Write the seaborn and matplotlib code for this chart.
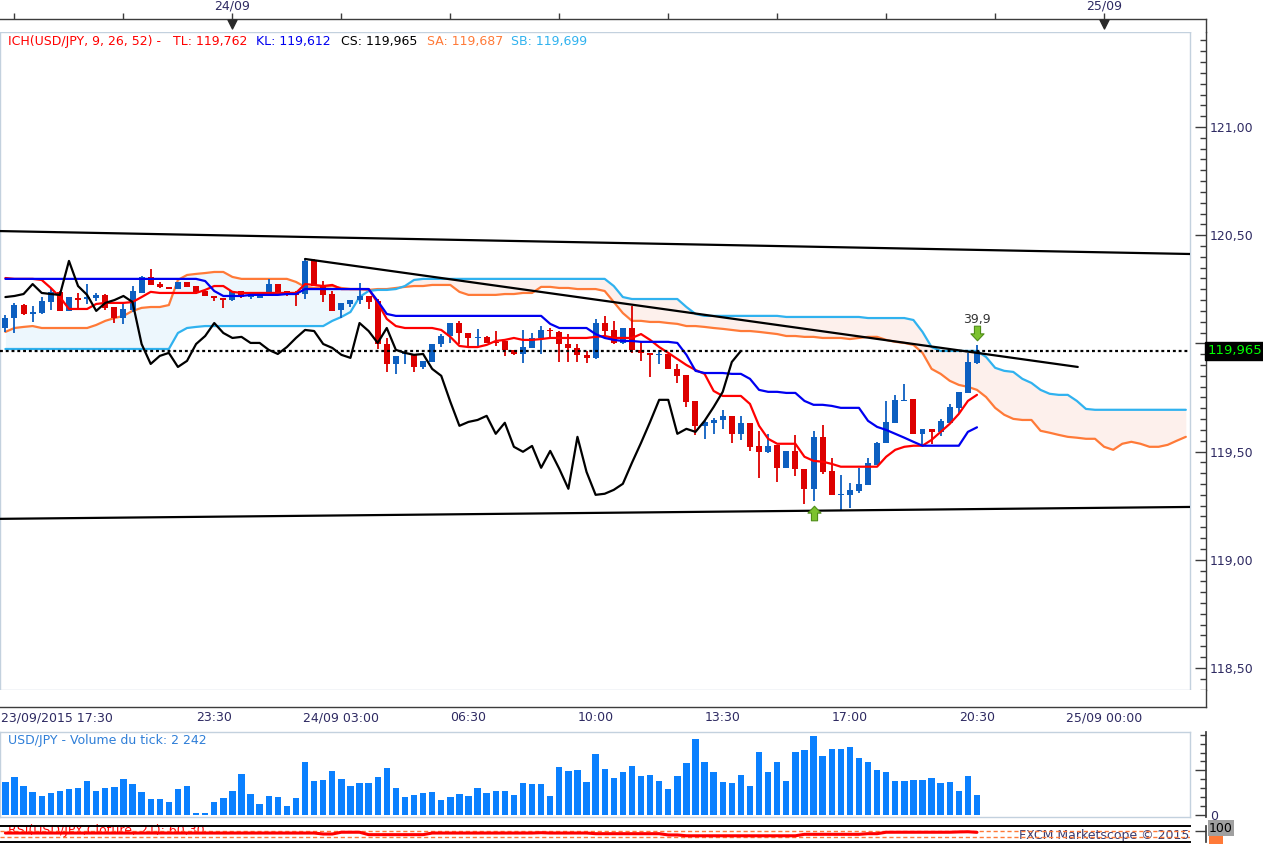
import numpy as np
import pandas as pd
import matplotlib.pyplot as plt
import seaborn as sns
from matplotlib.path import Path
from matplotlib.patches import Rectangle
from matplotlib.ticker import FixedLocator, MultipleLocator, FuncFormatter

# USD/JPY, 15 min candles, 23/09/2015 17:45 -> 24/09/2015 20:30 (index 0..107)
opens = [120.071, 120.117, 120.177, 120.136, 120.140, 120.191, 120.237, 120.150, 120.210, 120.205,
         120.210, 120.224, 120.168, 120.117, 120.154, 120.233, 120.307, 120.274, 120.261, 120.251,
         120.284, 120.265, 120.242, 120.219, 120.210, 120.200, 120.242, 120.214, 120.210, 120.219,
         120.274, 120.242, 120.233, 120.228, 120.381, 120.265, 120.228, 120.154, 120.182, 120.200,
         120.219, 120.196, 119.997, 119.905, 119.951, 119.947, 119.891, 119.914, 119.997, 120.034,
         120.094, 120.048, 120.025, 120.030, 120.007, 120.011, 119.970, 119.951, 119.979, 120.025,
         120.062, 120.053, 119.997, 119.979, 119.947, 119.933, 120.094, 120.062, 120.002, 120.071,
         119.970, 119.956, 119.947, 119.951, 119.882, 119.854, 119.734, 119.619, 119.633, 119.646,
         119.665, 119.582, 119.633, 119.526, 119.499, 119.531, 119.425, 119.503, 119.420, 119.328,
         119.568, 119.411, 119.300, 119.300, 119.319, 119.346, 119.439, 119.540, 119.633, 119.734,
         119.743, 119.582, 119.605, 119.591, 119.633, 119.702, 119.771, 119.910]
highs = [120.131, 120.187, 120.182, 120.173, 120.214, 120.256, 120.242, 120.214, 120.233, 120.274,
         120.233, 120.228, 120.168, 120.187, 120.265, 120.311, 120.344, 120.284, 120.261, 120.284,
         120.284, 120.265, 120.242, 120.219, 120.210, 120.242, 120.242, 120.233, 120.228, 120.297,
         120.274, 120.242, 120.242, 120.390, 120.390, 120.288, 120.242, 120.187, 120.200, 120.279,
         120.219, 120.205, 120.025, 119.942, 119.965, 119.947, 119.919, 119.997, 120.044, 120.094,
         120.104, 120.048, 120.067, 120.034, 120.057, 120.011, 119.970, 120.062, 120.048, 120.080,
         120.071, 120.057, 120.044, 119.997, 119.965, 120.113, 120.127, 120.104, 120.071, 120.173,
         120.011, 119.956, 119.970, 119.951, 119.905, 119.854, 119.734, 119.646, 119.656, 119.693,
         119.665, 119.665, 119.633, 119.596, 119.582, 119.531, 119.503, 119.577, 119.420, 119.596,
         119.623, 119.471, 119.393, 119.356, 119.425, 119.471, 119.545, 119.734, 119.762, 119.813,
         119.743, 119.605, 119.605, 119.651, 119.720, 119.776, 119.956, 119.993]
lows = [120.053, 120.048, 120.131, 120.099, 120.136, 120.154, 120.150, 120.150, 120.164, 120.182,
        120.196, 120.154, 120.094, 120.090, 120.145, 120.233, 120.270, 120.256, 120.251, 120.251,
        120.261, 120.228, 120.219, 120.196, 120.164, 120.196, 120.210, 120.205, 120.210, 120.219,
        120.233, 120.219, 120.173, 120.205, 120.265, 120.191, 120.150, 120.117, 120.168, 120.182,
        120.159, 119.974, 119.868, 119.859, 119.905, 119.868, 119.882, 119.914, 119.983, 120.002,
        119.997, 119.988, 119.988, 120.002, 119.988, 119.942, 119.947, 119.910, 119.979, 119.951,
        120.030, 119.914, 119.914, 119.914, 119.910, 119.928, 120.025, 119.997, 119.997, 119.956,
        119.919, 119.845, 119.905, 119.882, 119.817, 119.706, 119.577, 119.559, 119.582, 119.605,
        119.540, 119.554, 119.503, 119.379, 119.494, 119.360, 119.425, 119.388, 119.259, 119.273,
        119.397, 119.300, 119.231, 119.240, 119.309, 119.346, 119.439, 119.540, 119.633, 119.734,
        119.582, 119.526, 119.536, 119.573, 119.633, 119.679, 119.771, 119.905]
closes = [120.117, 120.177, 120.136, 120.145, 120.196, 120.237, 120.150, 120.214, 120.200, 120.214,
          120.224, 120.164, 120.117, 120.159, 120.242, 120.307, 120.270, 120.261, 120.251, 120.284,
          120.261, 120.233, 120.219, 120.210, 120.200, 120.242, 120.214, 120.219, 120.228, 120.274,
          120.233, 120.228, 120.224, 120.381, 120.265, 120.224, 120.150, 120.187, 120.200, 120.219,
          120.191, 119.997, 119.905, 119.942, 119.956, 119.891, 119.919, 119.997, 120.034, 120.094,
          120.048, 120.025, 120.030, 120.002, 120.002, 119.970, 119.951, 119.983, 120.025, 120.062,
          120.057, 119.997, 119.979, 119.947, 119.933, 120.094, 120.057, 120.002, 120.071, 119.970,
          119.956, 119.947, 119.951, 119.882, 119.850, 119.730, 119.619, 119.637, 119.646, 119.665,
          119.582, 119.633, 119.522, 119.499, 119.526, 119.425, 119.503, 119.420, 119.328, 119.568,
          119.406, 119.300, 119.305, 119.323, 119.351, 119.448, 119.540, 119.637, 119.739, 119.739,
          119.582, 119.605, 119.591, 119.642, 119.706, 119.776, 119.914, 119.965]
volume = [3740, 4260, 3250, 2580, 2130, 2470, 2690, 2950, 3030, 3810,
          2690, 3030, 3140, 4040, 3480, 2580, 1790, 1790, 1460, 2920,
          3250, 190, 190, 1460, 1910, 2690, 4600, 2350, 1230, 2130,
          2020, 1010, 1910, 5940, 3810, 3920, 4930, 4040, 3250, 3590,
          3590, 4260, 5270, 3030, 2020, 2240, 2470, 2580, 1680, 2020,
          2350, 2130, 3030, 2470, 2690, 2690, 2240, 3590, 3480, 3480,
          2130, 5380, 4930, 5050, 3700, 6840, 5160, 4150, 4820, 5490,
          4370, 4480, 3810, 2920, 4370, 5830, 8520, 5940, 4820, 3700,
          3590, 4480, 3250, 7060, 4820, 5940, 3810, 7060, 7290, 8860,
          6610, 7400, 7400, 7620, 6390, 5940, 5050, 4820, 3810, 3810,
          3920, 3920, 4150, 3590, 3700, 2690, 4370, 2242]

# Ichimoku lines as plotted (TL / KL per candle, SA / SB already shifted 26 ahead)
tenkan = [120.302, 120.298, 120.298, 120.298, 120.293, 120.256, 120.214, 120.159, 120.159, 120.159,
          120.182, 120.187, 120.187, 120.187, 120.191, 120.214, 120.238, 120.233, 120.233, 120.233,
          120.233, 120.233, 120.247, 120.265, 120.265, 120.238, 120.233, 120.233, 120.233, 120.233,
          120.233, 120.233, 120.233, 120.274, 120.270, 120.265, 120.270, 120.251, 120.251, 120.251,
          120.251, 120.187, 120.113, 120.080, 120.071, 120.071, 120.071, 120.071, 120.062, 120.030,
          119.988, 119.983, 119.983, 119.993, 120.011, 120.016, 120.025, 120.016, 120.016, 120.020,
          120.025, 120.025, 120.025, 120.025, 120.025, 120.030, 120.034, 120.025, 120.025, 120.025,
          120.043, 120.016, 119.983, 119.956, 119.928, 119.900, 119.877, 119.859, 119.780, 119.757,
          119.757, 119.757, 119.720, 119.619, 119.559, 119.536, 119.536, 119.536, 119.476, 119.457,
          119.453, 119.443, 119.430, 119.430, 119.430, 119.430, 119.430, 119.476, 119.508, 119.522,
          119.527, 119.527, 119.554, 119.591, 119.628, 119.674, 119.734, 119.762]
kijun = [120.298, 120.298, 120.298, 120.298, 120.298, 120.298, 120.298, 120.298, 120.298, 120.298,
         120.298, 120.298, 120.298, 120.298, 120.298, 120.298, 120.298, 120.298, 120.298, 120.298,
         120.298, 120.298, 120.288, 120.242, 120.219, 120.219, 120.219, 120.224, 120.224, 120.224,
         120.224, 120.228, 120.228, 120.251, 120.251, 120.251, 120.251, 120.251, 120.251, 120.251,
         120.251, 120.196, 120.136, 120.127, 120.127, 120.127, 120.127, 120.127, 120.127, 120.127,
         120.127, 120.127, 120.127, 120.127, 120.127, 120.127, 120.127, 120.127, 120.127, 120.127,
         120.090, 120.071, 120.071, 120.071, 120.071, 120.043, 120.025, 120.016, 120.011, 120.011,
         120.007, 120.007, 120.007, 120.007, 120.002, 119.947, 119.873, 119.863, 119.863, 119.863,
         119.859, 119.859, 119.836, 119.785, 119.776, 119.776, 119.771, 119.771, 119.734, 119.716,
         119.716, 119.711, 119.702, 119.702, 119.702, 119.642, 119.614, 119.600, 119.582, 119.564,
         119.545, 119.527, 119.527, 119.527, 119.527, 119.527, 119.591, 119.612]
senkou_a = [120.053, 120.071, 120.076, 120.080, 120.071, 120.071, 120.071, 120.071, 120.071, 120.071,
            120.085, 120.104, 120.117, 120.127, 120.150, 120.164, 120.168, 120.168, 120.177, 120.293,
            120.316, 120.321, 120.325, 120.330, 120.330, 120.307, 120.298, 120.298, 120.298, 120.298,
            120.298, 120.298, 120.284, 120.261, 120.256, 120.261, 120.265, 120.256, 120.251, 120.251,
            120.247, 120.251, 120.251, 120.256, 120.261, 120.265, 120.265, 120.270, 120.270, 120.270,
            120.238, 120.224, 120.224, 120.224, 120.224, 120.228, 120.228, 120.233, 120.233, 120.261,
            120.261, 120.256, 120.256, 120.251, 120.251, 120.251, 120.242, 120.191, 120.140, 120.104,
            120.104, 120.099, 120.099, 120.094, 120.090, 120.080, 120.080, 120.076, 120.071, 120.067,
            120.062, 120.057, 120.057, 120.053, 120.048, 120.043, 120.034, 120.034, 120.030, 120.030,
            120.025, 120.025, 120.025, 120.020, 120.025, 120.030, 120.030, 120.016, 120.007, 120.002,
            119.993, 119.956, 119.882, 119.859, 119.827, 119.808, 119.799, 119.785, 119.752, 119.702,
            119.670, 119.651, 119.646, 119.646, 119.596, 119.587, 119.577, 119.568, 119.564, 119.559,
            119.559, 119.522, 119.508, 119.536, 119.545, 119.536, 119.522, 119.522, 119.531, 119.550,
            119.568]
senkou_b = [119.974, 119.974, 119.974, 119.974, 119.974, 119.974, 119.974, 119.974, 119.974, 119.974,
            119.974, 119.974, 119.974, 119.974, 119.974, 119.974, 119.974, 119.974, 119.974, 120.048,
            120.071, 120.076, 120.080, 120.080, 120.080, 120.080, 120.080, 120.080, 120.080, 120.080,
            120.080, 120.080, 120.080, 120.080, 120.080, 120.080, 120.104, 120.122, 120.145, 120.214,
            120.242, 120.247, 120.247, 120.251, 120.265, 120.293, 120.298, 120.298, 120.298, 120.298,
            120.298, 120.298, 120.298, 120.298, 120.298, 120.298, 120.298, 120.298, 120.298, 120.298,
            120.298, 120.298, 120.298, 120.298, 120.298, 120.298, 120.298, 120.265, 120.214, 120.205,
            120.205, 120.205, 120.205, 120.205, 120.205, 120.168, 120.136, 120.127, 120.127, 120.127,
            120.127, 120.127, 120.127, 120.127, 120.127, 120.127, 120.122, 120.122, 120.122, 120.122,
            120.122, 120.122, 120.122, 120.122, 120.122, 120.117, 120.117, 120.117, 120.117, 120.117,
            120.108, 120.053, 119.983, 119.965, 119.965, 119.965, 119.965, 119.965, 119.937, 119.887,
            119.873, 119.868, 119.836, 119.817, 119.785, 119.767, 119.762, 119.762, 119.734, 119.697,
            119.693, 119.693, 119.693, 119.693, 119.693, 119.693, 119.693, 119.693, 119.693, 119.693,
            119.693]
rsi = [56, 56, 56, 56, 56, 56, 56, 56, 56, 56,
       56, 56, 56, 56, 56, 56, 56, 56, 56, 56,
       56, 56, 56, 56, 56, 56, 56, 56, 56, 56,
       56, 56, 56, 56, 56, 50, 50, 61, 61, 61,
       46, 46, 46, 46, 46, 46, 46, 56, 56, 56,
       56, 56, 56, 56, 56, 56, 56, 56, 56, 58,
       56, 56, 56, 56, 56, 52, 52, 52, 52, 52,
       52, 52, 52, 44, 44, 39, 39, 39, 39, 39,
       39, 39, 39, 39, 39, 39, 39, 39, 48, 48,
       48, 48, 48, 48, 48, 52, 52, 61, 61, 61,
       61, 61, 61, 61, 61, 63, 64, 60.3]

# hand-drawn lines: (candle index, price) endpoints
channel_top_x, channel_top_y = [-0.6, 130.5], [120.519, 120.413]
channel_low_x, channel_low_y = [-0.6, 130.5], [119.189, 119.244]
resist_x, resist_y = [33, 118.1], [120.390, 119.891]
signal_up = (89, 119.217)
signal_down = (107, 120.050)
signal_text = "39,9"
sa_now, sb_now = 119.687, 119.699

# time axis
day_ticks, day_labels = [25, 121], ["24/09", "25/09"]
hour3_ticks = [1, 13, 37, 49, 61, 73, 85, 97, 109]
time_ticks = [9, 23, 37, 51, 65, 79, 93, 107, 121]
time_labels = ["", "23:30", "24/09 03:00", "06:30", "10:00", "13:30", "17:00", "20:30", "25/09 00:00"]

sns.set_theme(style="white")
plt.rcParams["font.family"] = ["DejaVu Sans"]
plt.rcParams["font.size"] = 9

W, H = 1263, 844
fig = plt.figure(figsize=(W / 100, H / 100), dpi=100)


def panel(x0, y0, x1, y1):
    return fig.add_axes([x0 / W, 1 - y1 / H, (x1 - x0) / W, (y1 - y0) / H])


def fr(v, nd=3):
    return f"{v:.{nd}f}".replace(".", ",")


X0, X1 = -0.595, 130.46
X1_AX = X0 + (X1 - X0) * 1206 / 1190
AX_POS = 1206 / 1190
FRAME = "#c3d1de"
DARK = "#3c3c3c"
LABEL = "#2e2a62"
BLUE_C = "#0d5fc0"
RED_C = "#dd0000"

df = pd.DataFrame({"open": opens, "high": highs, "low": lows, "close": closes, "volume": volume})
df["i"] = np.arange(len(df))
up = df["close"] >= df["open"]
candle_col = np.where(up, BLUE_C, RED_C)

# ---------------- price panel ----------------
ax = panel(0, 32, 1190, 690)
cloud_i = np.arange(len(senkou_a))
sa = np.array(senkou_a)
sb = np.array(senkou_b)
ax.fill_between(cloud_i, sa, sb, where=sa >= sb, interpolate=True, color="#edf7fd", lw=0, zorder=0.5)
ax.fill_between(cloud_i, sa, sb, where=sa < sb, interpolate=True, color="#fdf0ec", lw=0, zorder=0.5)
sns.lineplot(x=cloud_i, y=sa, ax=ax, color="#ff7a38", linewidth=1.6, zorder=2)
sns.lineplot(x=cloud_i, y=sb, ax=ax, color="#30b2ef", linewidth=1.6, zorder=2)

ax.plot(channel_top_x, channel_top_y, color="black", linewidth=1.6, zorder=4)
ax.plot(channel_low_x, channel_low_y, color="black", linewidth=1.6, zorder=4)
ax.plot(resist_x, resist_y, color="black", linewidth=1.6, zorder=4)

body_lo = df[["open", "close"]].min(axis=1)
body_h = (df["close"] - df["open"]).abs().clip(lower=0.004)
ax.vlines(df["i"], df["low"], df["high"], colors=candle_col, linewidth=1.3, zorder=3)
ax.bar(df["i"], body_h, bottom=body_lo, width=0.66, color=candle_col, linewidth=0, zorder=3.5)

sns.lineplot(x=df["i"], y=tenkan, ax=ax, color="#ff0000", linewidth=1.6, zorder=5)
sns.lineplot(x=df["i"], y=kijun, ax=ax, color="#0000f0", linewidth=1.6, zorder=5)
chikou = df["close"].shift(-26)
sns.lineplot(x=df["i"], y=chikou, ax=ax, color="black", linewidth=1.6, zorder=5)

ax.axhline(closes[-1], color="black", linewidth=1.6, linestyle=(0, (1.3, 1.3)), zorder=6)

arrow_v = [(0, 1), (-0.9, 0.05), (-0.42, 0.05), (-0.42, -1), (0.42, -1), (0.42, 0.05), (0.9, 0.05), (0, 1)]
arrow_up = Path(arrow_v, closed=True)
arrow_dn = Path([(vx, -vy) for vx, vy in arrow_v], closed=True)
ax.scatter([signal_up[0]], [signal_up[1]], marker=arrow_up, s=110, color="#7cc22e",
           edgecolors="#4f8d18", linewidths=0.8, zorder=7)
ax.scatter([signal_down[0]], [signal_down[1]], marker=arrow_dn, s=110, color="#7cc22e",
           edgecolors="#4f8d18", linewidths=0.8, zorder=7)
ax.text(signal_down[0], signal_down[1] + 0.058, signal_text, ha="center", va="center",
        fontsize=9, color="#333333", zorder=7)

ax.set_xlim(X0, X1)
ax.set_ylim(118.398, 121.439)
ax.set_xticks([])
ax.set_yticks([])
ax.set_xlabel("")
ax.set_ylabel("")
for s in ax.spines.values():
    s.set_color(FRAME)
    s.set_linewidth(1)

sec = ax.secondary_yaxis(AX_POS)
sec.set_yticks([118.5, 119.0, 119.5, 120.0, 120.5, 121.0])
sec.yaxis.set_minor_locator(MultipleLocator(0.05))
sec.yaxis.set_major_formatter(FuncFormatter(lambda v, p: "" if abs(v - 120) < 1e-6 else fr(v, 2)))
sec.tick_params(axis="y", which="major", direction="in", length=8, width=1, color=DARK,
                labelcolor=LABEL, labelsize=9, pad=3)
sec.tick_params(axis="y", which="minor", direction="in", length=4.5, width=1, color=DARK)
sec.spines["right"].set_color(DARK)
sec.spines["right"].set_linewidth(1)

ax.text(AX_POS + 0.001, closes[-1], fr(closes[-1]), transform=ax.get_yaxis_transform(),
        ha="left", va="center", fontsize=9.5, color="#00ff00", clip_on=False, zorder=8,
        bbox=dict(boxstyle="square,pad=0.18", facecolor="black", edgecolor="black"))

legend_parts = [("ICH(USD/JPY, 9, 26, 52) -", 8, "#ff0000"),
                ("TL: " + fr(tenkan[-1]), 173, "#ff0000"),
                ("KL: " + fr(kijun[-1]), 256, "#0000f0"),
                ("CS: " + fr(closes[-1]), 341, "black"),
                ("SA: " + fr(sa_now), 427, "#ff7a38"),
                ("SB: " + fr(sb_now), 511, "#30b2ef")]
for txt, px, col in legend_parts:
    fig.text(px / W, 1 - 42 / H, txt, color=col, fontsize=9, va="center", ha="left")

# ---------------- top date strip ----------------
ax_top = panel(0, 19, 1206, 32)
ax_top.set_xlim(X0, X1_AX)
ax_top.set_ylim(0, 1)
for side in ["left", "bottom"]:
    ax_top.spines[side].set_visible(False)
for side in ["top", "right"]:
    ax_top.spines[side].set_color(DARK)
    ax_top.spines[side].set_linewidth(1)
ax_top.xaxis.set_ticks_position("top")
ax_top.set_xticks(day_ticks)
ax_top.set_xticklabels(day_labels)
ax_top.xaxis.set_minor_locator(FixedLocator(hour3_ticks))
ax_top.tick_params(axis="x", which="both", direction="out", length=4, width=1, color=DARK,
                   labelcolor=LABEL, labelsize=9, pad=0.5, top=True, bottom=False,
                   labeltop=True, labelbottom=False)
ax_top.set_yticks([])
ax_top.scatter(day_ticks, [0.6, 0.6], marker="v", s=42, color="#2a2a2a", zorder=3, clip_on=False)

# ---------------- time axis ----------------
ax_time = panel(0, 690, 1206, 707)
ax_time.set_xlim(X0, X1_AX)
ax_time.set_ylim(0, 1)
for side in ["left", "top"]:
    ax_time.spines[side].set_visible(False)
for side in ["bottom", "right"]:
    ax_time.spines[side].set_color(DARK)
    ax_time.spines[side].set_linewidth(1)
ax_time.set_xticks(time_ticks)
ax_time.set_xticklabels(time_labels)
ax_time.xaxis.set_minor_locator(FixedLocator(np.arange(time_ticks[0] - 1.75 * 5, X1_AX, 1.75)))
ax_time.tick_params(axis="x", which="major", direction="in", length=10.5, width=1, color=DARK,
                    labelcolor=LABEL, labelsize=9, pad=3)
ax_time.tick_params(axis="x", which="minor", direction="in", length=5, width=1, color=DARK)
ax_time.set_yticks([])
fig.text(1 / W, 1 - 718 / H, "23/09/2015 17:30", color=LABEL, fontsize=9, va="center", ha="left")

# ---------------- volume panel ----------------
ax_vol = panel(0, 732, 1190, 817)
sns.barplot(x=df["i"], y=df["volume"], ax=ax_vol, native_scale=True, color="#0a80ff",
            saturation=1, width=0.7, errorbar=None, linewidth=0)
ax_vol.set_xlim(X0, X1)
ax_vol.set_ylim(-220, 9300)
ax_vol.set_xticks([])
ax_vol.set_yticks([])
ax_vol.set_xlabel("")
ax_vol.set_ylabel("")
for s in ax_vol.spines.values():
    s.set_color(FRAME)
    s.set_linewidth(1)
vsec = ax_vol.secondary_yaxis(AX_POS)
vsec.set_yticks([0, 5000])
vsec.yaxis.set_minor_locator(MultipleLocator(1000))
vsec.yaxis.set_major_formatter(FuncFormatter(lambda v, p: "0" if v == 0 else ""))
vsec.tick_params(axis="y", which="major", direction="in", length=8, width=1, color=DARK,
                 labelcolor=LABEL, labelsize=9, pad=3)
vsec.tick_params(axis="y", which="minor", direction="in", length=4.5, width=1, color=DARK)
vsec.spines["right"].set_color(DARK)
vol_txt = f"{volume[-1]:,}".replace(",", " ")
ax_vol.text(8 / 1190, 0.9, "USD/JPY - Volume du tick: " + vol_txt, transform=ax_vol.transAxes,
            color="#2f7fd8", fontsize=9, va="center", ha="left")

# ---------------- RSI strip ----------------
ax_rsi = panel(0, 826, 1190, 842)
ax_rsi.text(8 / 1190, 0.7, "RSI(USD/JPY,Cloture, 21): " + fr(rsi[-1], 2), transform=ax_rsi.transAxes,
            color="#ff0000", fontsize=9, va="center", ha="left", zorder=1)
ax_rsi.text(1189 / 1190, 0.4, "FXCM Marketscope \u00a9 2015", transform=ax_rsi.transAxes,
            color="#3a3a6e", fontsize=9, va="center", ha="right", zorder=1)
ax_rsi.axhline(70, color="#ff7a38", linewidth=1, linestyle=(0, (3, 2)), zorder=2)
ax_rsi.axhline(30, color="#ff7a38", linewidth=1, linestyle=(0, (3, 2)), zorder=2)
sns.lineplot(x=df["i"], y=rsi, ax=ax_rsi, color="#ff0000", linewidth=2.2, zorder=3)
ax_rsi.set_xlim(X0, X1)
ax_rsi.set_ylim(0, 100)
ax_rsi.set_xticks([])
ax_rsi.set_yticks([])
ax_rsi.set_xlabel("")
ax_rsi.set_ylabel("")
for side in ["left", "right"]:
    ax_rsi.spines[side].set_visible(False)
for side in ["top", "bottom"]:
    ax_rsi.spines[side].set_color("black")
    ax_rsi.spines[side].set_linewidth(1.4)
rsec = ax_rsi.secondary_yaxis(AX_POS)
rsec.set_yticks([70])
rsec.set_yticklabels([""])
rsec.tick_params(axis="y", direction="in", length=8, width=1, color=DARK)
rsec.spines["right"].set_color(DARK)
fig.text(1209 / W, 1 - 828 / H, "100", color="black", fontsize=9, va="center", ha="left",
         bbox=dict(boxstyle="square,pad=0.12", facecolor="#a0a0a0", edgecolor="none"))
fig.add_artist(Rectangle((1209 / W, 0), 14 / W, 8 / H, transform=fig.transFigure,
                         facecolor="#ff7a38", edgecolor="none"))

fig.savefig("out.png", dpi=100)
